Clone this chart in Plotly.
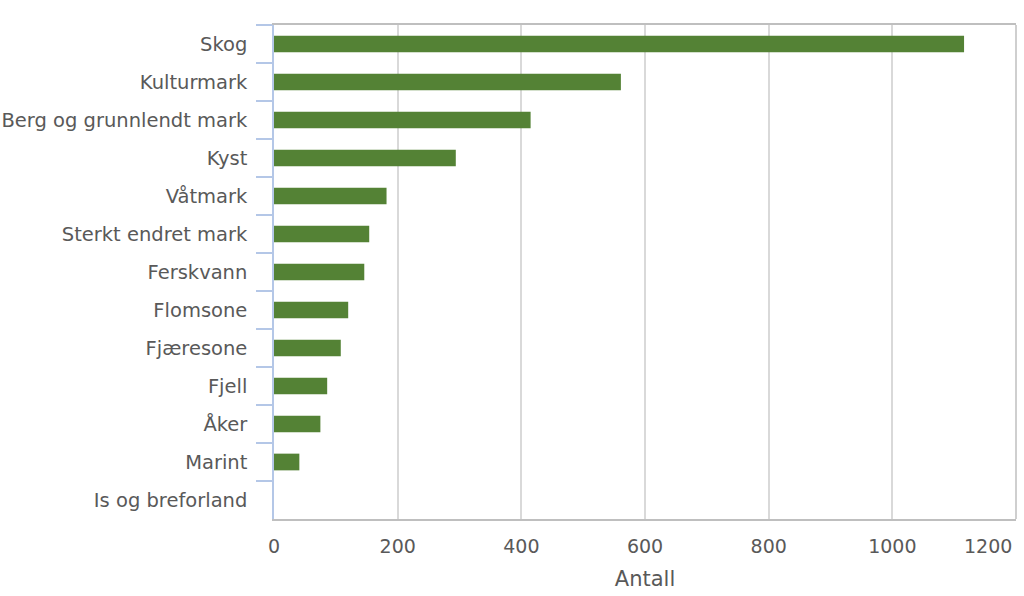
import plotly.graph_objects as go

# Data
kategorier = ["Skog", "Kulturmark", "Berg og grunnlendt mark", "Kyst", "Våtmark",
              "Sterkt endret mark", "Ferskvann", "Flomsone", "Fjæresone", "Fjell",
              "Åker", "Marint", "Is og breforland"]
antall = [1116, 561, 415, 294, 182, 154, 146, 120, 108, 86, 75, 41, 0]
tick_vals = [0, 200, 400, 600, 800, 1000]
tick_text = ["0", "200", "400", "600", "800", "1000"]
siste_tick = 1200

tekstfarge = "#595959"
font_familie = "DejaVu Sans"

fig = go.Figure(
    go.Bar(
        y=kategorier,
        x=antall,
        orientation="h",
        marker=dict(color="#548235", line=dict(width=0)),
        width=0.44,
    )
)

fig.update_layout(
    width=1024,
    height=596,
    margin=dict(l=274, r=8, t=25, b=77),
    plot_bgcolor="white",
    paper_bgcolor="white",
    font=dict(family=font_familie, size=19.5, color=tekstfarge),
    showlegend=False,
    xaxis=dict(
        range=[0, siste_tick],
        tickvals=tick_vals,
        ticktext=tick_text,
        showgrid=True,
        gridcolor="#d9d9d9",
        gridwidth=1.5,
        zeroline=False,
        showline=True,
        linecolor="#bfbfbf",
        linewidth=1.5,
        mirror=True,
        ticks="",
        tickfont=dict(size=19, color=tekstfarge),
        ticklabelstandoff=9,
        automargin=False,
        title=dict(text="Antall", font=dict(size=21, color=tekstfarge), standoff=16),
    ),
    yaxis=dict(
        autorange="reversed",
        showgrid=False,
        showline=True,
        linecolor="#b4c7e7",
        linewidth=1.5,
        ticks="outside",
        tickson="boundaries",
        ticklen=16,
        tickwidth=1.5,
        tickcolor="#b4c7e7",
        tickfont=dict(size=19.5, color=tekstfarge),
        ticklabelstandoff=21,
        automargin=False,
    ),
)

# Høyre ramme
fig.add_shape(type="line", xref="paper", yref="paper", x0=1, x1=1, y0=0, y1=1,
              line=dict(color="#bfbfbf", width=1.5))

# Siste tick-etikett forskjøvet inn i bildet
fig.add_annotation(x=siste_tick, y=0, xref="x", yref="paper", text=str(siste_tick),
                   showarrow=False, xanchor="right", yanchor="top", xshift=-2, yshift=-14,
                   font=dict(size=19, color=tekstfarge, family=font_familie))

# Fjern standardmargen rundt body så figuren fyller vinduet
fig.write_html("out.html", config={"displayModeBar": False},
               post_script="document.body.style.margin='0';")
